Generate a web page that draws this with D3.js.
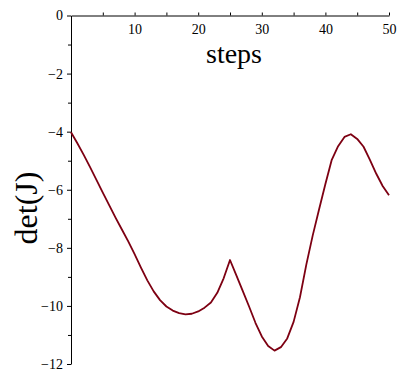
<!DOCTYPE html>
<html>
<head>
<meta charset="utf-8">
<script src="https://d3js.org/d3.v7.min.js"></script>
<style>
body { margin: 0; background: #fff; }
text { font-family: "Liberation Serif", "Times New Roman", serif; }
</style>
</head>
<body>
<div id="chart"></div>
<script>
var width = 399;
var height = 371;

// det(J) per step
var steps = d3.range(0, 51);
var detJ = [
  -4.02, -4.40, -4.80, -5.22, -5.66, -6.10, -6.53, -6.96, -7.37, -7.78,
  -8.22, -8.68, -9.12, -9.50, -9.80, -10.02, -10.16, -10.25, -10.29, -10.27,
  -10.19, -10.06, -9.88, -9.55, -9.05, -8.42, -8.95, -9.48, -10.02, -10.58,
  -11.05, -11.38, -11.54, -11.42, -11.12, -10.55, -9.70, -8.58, -7.58, -6.68,
  -5.80, -4.97, -4.50, -4.18, -4.09, -4.25, -4.52, -4.97, -5.45, -5.87,
  -6.19
];
var xTicks = [5, 10, 15, 20, 25, 30, 35, 40, 45, 50];
var xLabels = [10, 20, 30, 40, 50];
var yTicks = [0, -1, -2, -3, -4, -5, -6, -7, -8, -9, -10, -11, -12];
var yLabels = [0, -2, -4, -6, -8, -10, -12];

var svg = d3.select("#chart")
  .append("svg")
  .attr("width", width)
  .attr("height", height);

var x = d3.scaleLinear().domain([0, 50]).range([71, 389]);
var y = d3.scaleLinear().domain([0, -12]).range([15.5, 364]);

// x axis on top (y = 0), ticks pointing up, labels below
var xAxis = svg.append("g")
  .attr("transform", "translate(0," + y(0) + ")")
  .call(d3.axisBottom(x)
    .tickValues(xTicks)
    .tickSize(-3)
    .tickSizeOuter(0)
    .tickPadding(9)
    .tickFormat(function (d) { return xLabels.indexOf(d) >= 0 ? d : ""; }));
xAxis.selectAll("text").attr("font-size", 14).attr("fill", "#000")
  .style("font-family", "Liberation Serif");

// y axis
var yAxis = svg.append("g")
  .attr("transform", "translate(" + x(0) + ",0)")
  .call(d3.axisLeft(y)
    .tickValues(yTicks)
    .tickSize(4)
    .tickSizeOuter(0)
    .tickPadding(4)
    .tickFormat(function (d) { return yLabels.indexOf(d) >= 0 ? d3.format("d")(d) : ""; }));
yAxis.selectAll("text").attr("font-size", 14).attr("fill", "#000")
  .style("font-family", "Liberation Serif");
yAxis.selectAll(".tick line").attr("x2", function (d) { return d % 2 === 0 ? -4 : -3; });

svg.selectAll(".domain").attr("stroke", "#000").attr("stroke-width", 1);

// curve
var line = d3.line()
  .x(function (d, i) { return x(steps[i]); })
  .y(function (d) { return y(d); });

svg.append("path")
  .datum(detJ)
  .attr("d", line)
  .attr("fill", "none")
  .attr("stroke", "#7d0012")
  .attr("stroke-width", 1.8)
  .attr("stroke-linejoin", "round");

// axis titles
svg.append("text")
  .attr("x", 234)
  .attr("y", 63)
  .attr("text-anchor", "middle")
  .attr("font-size", 28)
  .text("steps");

svg.append("text")
  .attr("transform", "translate(37,208) rotate(-90)")
  .attr("text-anchor", "middle")
  .attr("font-size", 32)
  .text("det(J)");
</script>
</body>
</html>
